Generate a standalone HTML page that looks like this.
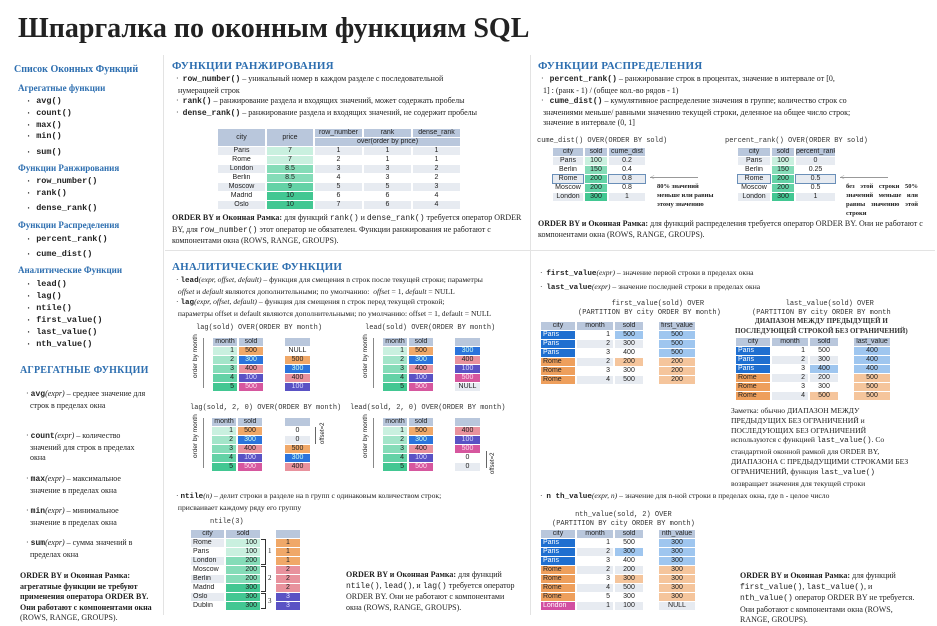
<!DOCTYPE html>
<html><head><meta charset="utf-8"><style>
*{margin:0;padding:0;box-sizing:border-box}
body{width:937px;height:624px;background:#fff;position:relative;overflow:hidden;font-family:"Liberation Serif","Noto Serif CJK SC",serif;color:#222;font-size:8px}
.a{position:absolute;white-space:nowrap}
.m{font-family:"Liberation Mono",monospace}
.mb{font-family:"Liberation Mono",monospace;font-weight:bold}
.h1{font-weight:bold;color:#2e6fb0}
.sec{font-weight:bold;color:#2e6fb0;font-size:11px;letter-spacing:.2px}
.li{font-family:"Liberation Mono",monospace;font-weight:bold;font-size:8.5px}
.p{position:absolute;font-size:8px;line-height:10.5px}
.t{position:absolute;display:grid;font:7px "Liberation Sans",sans-serif;column-gap:2px;row-gap:1px}
.t div{height:8px;line-height:8px;text-align:center;overflow:hidden;white-space:nowrap}
.h{background:#b9c7dc}.w{background:#fff}.g{background:#e7ebf1}
.g1{background:#c9f0df}.g2{background:#a3e5c9}.g3{background:#85dcb8}.g4{background:#63d2a6}.g5{background:#42c792}
.o{background:#f0a868}.b{background:#2b74dc;color:#cfe}.pk{background:#e8929d}.pu{background:#5a52c4;color:#ddf}.mg{background:#d6579e;color:#fde}
.lb{background:#9fc6ef}.lo{background:#f5c59c}.P{background:#1f6fd0;color:#fff;text-align:left!important;padding-left:2px}.R{background:#ee9f5c;text-align:left!important;padding-left:2px}.L{background:#d24fa1;color:#fff;text-align:left!important;padding-left:2px}
.r{text-align:right!important;padding-right:3px}
.vl{position:absolute;background:#e3e3e3}
.cap{position:absolute;font-family:"Liberation Mono",monospace;font-size:7px;white-space:nowrap;color:#333}
</style></head><body>

<div class="a" style="left:18px;top:13px;font-size:28px;font-weight:bold;">Шпаргалка по оконным функциям SQL</div>

<div class="vl" style="left:163px;top:55px;width:1px;height:560px"></div>
<div class="vl" style="left:530px;top:55px;width:1px;height:560px"></div>
<div class="vl" style="left:165px;top:250px;width:770px;height:1px"></div>

<!-- sidebar -->
<div class="a h1" style="left:14px;top:64px;font-size:10px">Список Оконных Функций</div>
<div class="a h1" style="left:18px;top:83px;font-size:9px">Агрегатные функции</div>
<div class="a li" style="left:26px;top:96px">· avg()</div>
<div class="a li" style="left:26px;top:108px">· count()</div>
<div class="a li" style="left:26px;top:120px">· max()</div>
<div class="a li" style="left:26px;top:131px">· min()</div>
<div class="a li" style="left:26px;top:147px">· sum()</div>
<div class="a h1" style="left:18px;top:163px;font-size:9px">Функции Ранжирования</div>
<div class="a li" style="left:26px;top:176px">· row_number()</div>
<div class="a li" style="left:26px;top:188px">· rank()</div>
<div class="a li" style="left:26px;top:203px">·  dense_rank()</div>
<div class="a h1" style="left:18px;top:220px;font-size:9px">Функции Распределения</div>
<div class="a li" style="left:26px;top:234px">· percent_rank()</div>
<div class="a li" style="left:26px;top:249px">· cume_dist()</div>
<div class="a h1" style="left:18px;top:265px;font-size:9px">Аналитические Функции</div>
<div class="a li" style="left:26px;top:279px">· lead()</div>
<div class="a li" style="left:26px;top:291px">· lag()</div>
<div class="a li" style="left:26px;top:303px">· ntile()</div>
<div class="a li" style="left:26px;top:315px">· first_value()</div>
<div class="a li" style="left:26px;top:327px">· last_value()</div>
<div class="a li" style="left:26px;top:339px">· nth_value()</div>

<div class="a sec" style="left:20px;top:365px;font-size:10px">АГРЕГАТНЫЕ ФУНКЦИИ</div>
<div class="p" style="left:26px;top:389px;width:130px">· <b class="m">avg</b><i>(expr)</i> – среднее значение для<br>&nbsp;&nbsp;строк в пределах окна</div>
<div class="p" style="left:26px;top:431px;width:130px">· <b class="m">count</b><i>(expr)</i> – количество<br>&nbsp;&nbsp;значений для строк в пределах<br>&nbsp;&nbsp;окна</div>
<div class="p" style="left:26px;top:474px;width:130px">· <b class="m">max</b><i>(expr)</i> – максимальное<br>&nbsp;&nbsp;значение в пределах окна</div>
<div class="p" style="left:26px;top:506px;width:130px">· <b class="m">min</b><i>(expr)</i> – минимальное<br>&nbsp;&nbsp;значение в пределах окна</div>
<div class="p" style="left:26px;top:538px;width:130px">· <b class="m">sum</b><i>(expr)</i> – сумма значений в<br>&nbsp;&nbsp;пределах окна</div>
<div class="p" style="left:20px;top:571px;width:145px;font-weight:bold">ORDER BY и Оконная Рамка:<br>агрегатные функции не требуют<br>применения оператора ORDER BY.<br>Они работают с компонентами окна<br><span style="font-weight:normal">(ROWS, RANGE, GROUPS).</span></div>

<!-- ranking -->
<div class="a sec" style="left:172px;top:60px">ФУНКЦИИ РАНЖИРОВАНИЯ</div>
<div class="p" style="left:176px;top:74px;width:350px">·&nbsp; <b class="m">row_number()</b> – уникальный номер в каждом разделе с последовательной<br>&nbsp;нумерацией строк<br>·&nbsp; <b class="m">rank()</b> – ранжирование раздела и входящих значений, может содержать пробелы<br>·&nbsp; <b class="m">dense_rank()</b> – ранжирование раздела и входящих значений, не содержит пробелы</div>
<div class="t" style="left:218px;top:129px;grid-template-columns:47px 46px 47px 47px 47px">
<div class="h" style="grid-row:span 2;height:17px;line-height:17px">city</div><div class="h" style="grid-row:span 2;height:17px;line-height:17px">price</div><div class="h">row_number</div><div class="h">rank</div><div class="h">dense_rank</div>
<div class="h" style="grid-column:span 3">over(order by price)</div>
<div class="g">Paris</div><div class="g1">7</div><div class="g">1</div><div class="g">1</div><div class="g">1</div>
<div class="w">Rome</div><div class="g1">7</div><div class="w">2</div><div class="w">1</div><div class="w">1</div>
<div class="g">London</div><div class="g3">8.5</div><div class="g">3</div><div class="g">3</div><div class="g">2</div>
<div class="w">Berlin</div><div class="g3">8.5</div><div class="w">4</div><div class="w">3</div><div class="w">2</div>
<div class="g">Moscow</div><div class="g4">9</div><div class="g">5</div><div class="g">5</div><div class="g">3</div>
<div class="w">Madrid</div><div class="g5">10</div><div class="w">6</div><div class="w">6</div><div class="w">4</div>
<div class="g">Oslo</div><div class="g5">10</div><div class="g">7</div><div class="g">6</div><div class="g">4</div>
</div>
<div class="p" style="left:172px;top:213px;width:355px"><b>ORDER BY и Оконная Рамка:</b> для функций <span class="m">rank()</span> и <span class="m">dense_rank()</span> требуется оператор ORDER BY, для <span class="m">row_number()</span> этот оператор не обязателен. Функции ранжирования не работают с компонентами окна (ROWS, RANGE, GROUPS).</div>

<!-- distribution -->
<div class="a sec" style="left:538px;top:60px">ФУНКЦИИ РАСПРЕДЕЛЕНИЯ</div>
<div class="p" style="left:541px;top:74px;width:390px">·&nbsp;&nbsp; <b class="m">percent_rank()</b> – ранжирование строк в процентах, значение в интервале от [0,<br>&nbsp;1] : (ранк - 1) / (общее кол.-во рядов - 1)<br>·&nbsp;&nbsp; <b class="m">cume_dist()</b> – кумулятивное распределение значения в группе; количество строк со<br>&nbsp;значениями меньше/ равными значению текущей строки, деленное на общее число строк;<br>&nbsp;значение в интервале (0, 1]</div>
<div class="cap" style="left:537px;top:137px">cume_dist() OVER(ORDER BY sold)</div>
<div class="t" style="left:553px;top:148px;grid-template-columns:30px 22px 36px">
<div class="h">city</div><div class="h">sold</div><div class="h">cume_dist</div>
<div class="g">Paris</div><div class="g1">100</div><div class="g">0.2</div>
<div class="w">Berlin</div><div class="g3">150</div><div class="w">0.4</div>
<div class="g" style="outline:1px solid #6a8fb8">Rome</div><div class="g4">200</div><div class="g" style="outline:1px solid #6a8fb8">0.8</div>
<div class="w">Moscow</div><div class="g4">200</div><div class="w">0.8</div>
<div class="g">London</div><div class="g5">300</div><div class="g">1</div>
</div>
<div class="a" style="left:650px;top:177px;width:48px;border-top:1px solid #999"></div>
<div class="a" style="left:650px;top:173px;font-size:8px;color:#999">&lt;</div>
<div class="p" style="left:657px;top:182px;font-size:6.5px;line-height:9px;font-weight:bold">80% значений<br>меньше или равны<br>этому значению</div>
<div class="cap" style="left:725px;top:137px">percent_rank() OVER(ORDER BY sold)</div>
<div class="t" style="left:738px;top:148px;grid-template-columns:32px 22px 39px">
<div class="h">city</div><div class="h">sold</div><div class="h">percent_rank</div>
<div class="g">Paris</div><div class="g1">100</div><div class="g">0</div>
<div class="w">Berlin</div><div class="g3">150</div><div class="w">0.25</div>
<div class="g" style="outline:1px solid #6a8fb8">Rome</div><div class="g4">200</div><div class="g" style="outline:1px solid #6a8fb8">0.5</div>
<div class="w">Moscow</div><div class="g4">200</div><div class="w">0.5</div>
<div class="g">London</div><div class="g5">300</div><div class="g">1</div>
</div>
<div class="a" style="left:840px;top:177px;width:48px;border-top:1px solid #999"></div>
<div class="a" style="left:840px;top:173px;font-size:8px;color:#999">&lt;</div>
<div class="p" style="left:846px;top:182px;width:72px;font-size:6.5px;line-height:9px;font-weight:bold;text-align:justify">без этой строки 50% значений меньше или равны значению этой строки</div>
<div class="p" style="left:538px;top:219px;width:390px"><b>ORDER BY и Оконная Рамка:</b> для функций распределения требуется оператор ORDER BY. Они не работают с компонентами окна (ROWS, RANGE, GROUPS).</div>

<!-- analytic -->
<div class="a sec" style="left:172px;top:261px">АНАЛИТИЧЕСКИЕ ФУНКЦИИ</div>
<div class="p" style="left:176px;top:275px;width:355px;font-size:7.6px">· <b class="m">lead</b><i>(expr, offset, default)</i> – функция для смещения n строк после текущей строки; параметры<br>&nbsp;<i>offset</i> и <i>default</i> являются дополнительными; по умолчанию:&nbsp; <i>offset</i> = 1, <i>default</i> = NULL<br>· <b class="m">lag</b><i>(expr, offset, default)</i> – функция для смещения n строк перед текущей строкой;<br>&nbsp;параметры offset и default являются дополнительными; по умолчанию: offset = 1, default = NULL</div>

<div class="cap" style="left:196px;top:324px">lag(sold) OVER(ORDER BY month)</div>
<div class="cap" style="left:365px;top:324px">lead(sold) OVER(ORDER BY month)</div>
<div class="cap" style="left:190px;top:404px">lag(sold, 2, 0) OVER(ORDER BY month)</div>
<div class="cap" style="left:350px;top:404px">lead(sold, 2, 0) OVER(ORDER BY month)</div>

<div class="a" style="left:203px;top:338px;height:50px;border-left:1px solid #888"></div>
<div class="a" style="left:373px;top:338px;height:50px;border-left:1px solid #888"></div>
<div class="a" style="left:203px;top:418px;height:50px;border-left:1px solid #888"></div>
<div class="a" style="left:373px;top:418px;height:50px;border-left:1px solid #888"></div>
<div class="a" style="left:192px;top:378px;transform:rotate(-90deg);transform-origin:0 0;font:6.5px 'Liberation Sans',sans-serif">order by month</div>
<div class="a" style="left:362px;top:378px;transform:rotate(-90deg);transform-origin:0 0;font:6.5px 'Liberation Sans',sans-serif">order by month</div>
<div class="a" style="left:192px;top:458px;transform:rotate(-90deg);transform-origin:0 0;font:6.5px 'Liberation Sans',sans-serif">order by month</div>
<div class="a" style="left:362px;top:458px;transform:rotate(-90deg);transform-origin:0 0;font:6.5px 'Liberation Sans',sans-serif">order by month</div>

<div class="t" style="left:213px;top:338px;grid-template-columns:24px 24px">
<div class="h">month</div><div class="h">sold</div>
<div class="g1 r">1</div><div class="o">500</div><div class="g2 r">2</div><div class="b">300</div><div class="g3 r">3</div><div class="pk">400</div><div class="g4 r">4</div><div class="pu">100</div><div class="g5 r">5</div><div class="mg">500</div></div>
<div class="t" style="left:285px;top:338px;grid-template-columns:25px">
<div class="h">&nbsp;</div><div class="w">NULL</div><div class="o">500</div><div class="b">300</div><div class="pk">400</div><div class="pu">100</div></div>

<div class="t" style="left:383px;top:338px;grid-template-columns:24px 24px">
<div class="h">month</div><div class="h">sold</div>
<div class="g1 r">1</div><div class="o">500</div><div class="g2 r">2</div><div class="b">300</div><div class="g3 r">3</div><div class="pk">400</div><div class="g4 r">4</div><div class="pu">100</div><div class="g5 r">5</div><div class="mg">500</div></div>
<div class="t" style="left:455px;top:338px;grid-template-columns:25px">
<div class="h">&nbsp;</div><div class="b">300</div><div class="pk">400</div><div class="pu">100</div><div class="mg">500</div><div class="g">NULL</div></div>

<div class="t" style="left:212px;top:418px;grid-template-columns:24px 24px">
<div class="h">month</div><div class="h">sold</div>
<div class="g1 r">1</div><div class="o">500</div><div class="g2 r">2</div><div class="b">300</div><div class="g3 r">3</div><div class="pk">400</div><div class="g4 r">4</div><div class="pu">100</div><div class="g5 r">5</div><div class="mg">500</div></div>
<div class="t" style="left:285px;top:418px;grid-template-columns:25px">
<div class="h">&nbsp;</div><div class="w">0</div><div class="g">0</div><div class="o">500</div><div class="b">300</div><div class="pk">400</div></div>
<div class="a" style="left:315px;top:427px;height:17px;border-left:1px solid #666"></div>
<div class="a" style="left:320px;top:444px;transform:rotate(-90deg);transform-origin:0 0;font:6px 'Liberation Sans',sans-serif">offset=2</div>

<div class="t" style="left:383px;top:418px;grid-template-columns:24px 24px">
<div class="h">month</div><div class="h">sold</div>
<div class="g1 r">1</div><div class="o">500</div><div class="g2 r">2</div><div class="b">300</div><div class="g3 r">3</div><div class="pk">400</div><div class="g4 r">4</div><div class="pu">100</div><div class="g5 r">5</div><div class="mg">500</div></div>
<div class="t" style="left:455px;top:418px;grid-template-columns:25px">
<div class="h">&nbsp;</div><div class="pk">400</div><div class="pu">100</div><div class="mg">500</div><div class="w">0</div><div class="g">0</div></div>
<div class="a" style="left:486px;top:451px;height:17px;border-left:1px solid #666"></div>
<div class="a" style="left:490px;top:474px;transform:rotate(-90deg);transform-origin:0 0;font:6px 'Liberation Sans',sans-serif">offset=2</div>

<!-- ntile -->
<div class="p" style="left:176px;top:491px;width:355px;font-size:7.6px">· <b class="m">ntile</b><i>(n)</i> – делит строки в разделе на n групп с одинаковым количеством строк;<br>&nbsp;присваивает каждому ряду его группу</div>
<div class="cap" style="left:210px;top:518px">ntile(3)</div>
<div class="t" style="left:191px;top:530px;grid-template-columns:33px 34px">
<div class="h">city</div><div class="h">sold</div>
<div class="g" style="text-align:left;padding-left:2px">Rome</div><div class="g1 r">100</div>
<div class="w" style="text-align:left;padding-left:2px">Paris</div><div class="g1 r">100</div>
<div class="g" style="text-align:left;padding-left:2px">London</div><div class="g3 r">200</div>
<div class="w" style="text-align:left;padding-left:2px">Moscow</div><div class="g3 r">200</div>
<div class="g" style="text-align:left;padding-left:2px">Berlin</div><div class="g3 r">200</div>
<div class="w" style="text-align:left;padding-left:2px">Madrid</div><div class="g5 r">300</div>
<div class="g" style="text-align:left;padding-left:2px">Oslo</div><div class="g5 r">300</div>
<div class="w" style="text-align:left;padding-left:2px">Dublin</div><div class="g5 r">300</div></div>
<div class="t" style="left:276px;top:530px;grid-template-columns:24px">
<div class="h">&nbsp;</div><div class="o">1</div><div class="o">1</div><div class="o">1</div><div class="pk">2</div><div class="pk">2</div><div class="pk">2</div><div class="pu">3</div><div class="pu">3</div></div>
<div class="a" style="left:261px;top:539px;width:5px;height:26px;border:1px solid #333;border-left:none"></div>
<div class="a" style="left:261px;top:566px;width:5px;height:26px;border:1px solid #333;border-left:none"></div>
<div class="a" style="left:261px;top:593px;width:5px;height:16px;border:1px solid #333;border-left:none"></div>
<div class="a" style="left:268px;top:547px;font-size:7px">1</div>
<div class="a" style="left:268px;top:574px;font-size:7px">2</div>
<div class="a" style="left:268px;top:597px;font-size:7px">3</div>
<div class="p" style="left:346px;top:570px;width:175px"><b>ORDER BY и Оконная Рамка:</b> для функций <span class="m">ntile()</span>, <span class="m">lead()</span>, и <span class="m">lag()</span> требуется оператор ORDER BY. Они не работают с компонентами окна (ROWS, RANGE, GROUPS).</div>

<!-- first/last -->
<div class="p" style="left:540px;top:267px;width:390px;font-size:7.6px;line-height:12.5px">·&nbsp; <b class="m">first_value</b><i>(expr)</i> – значение первой строки в пределах окна<br>·&nbsp; <b class="m">last_value</b><i>(expr)</i> – значение последней строки в пределах окна</div>
<div class="cap" style="left:578px;top:300px;text-align:center;line-height:9px">&nbsp;&nbsp;&nbsp;&nbsp;first_value(sold) OVER<br>(PARTITION BY city ORDER BY month)</div>
<div class="t" style="left:541px;top:322px;grid-template-columns:34px 36px 28px 12px 36px">
<div class="h">city</div><div class="h">month</div><div class="h">sold</div><div class="w"></div><div class="h">first_value</div>
<div class="P">Paris</div><div class="w r">1</div><div class="lb">500</div><div class="w"></div><div class="lb">500</div>
<div class="P">Paris</div><div class="g r">2</div><div class="g">300</div><div class="w"></div><div class="lb">500</div>
<div class="P">Paris</div><div class="w r">3</div><div class="w">400</div><div class="w"></div><div class="lb">500</div>
<div class="R">Rome</div><div class="g r">2</div><div class="lo">200</div><div class="w"></div><div class="lo">200</div>
<div class="R">Rome</div><div class="w r">3</div><div class="w">300</div><div class="w"></div><div class="lo">200</div>
<div class="R">Rome</div><div class="g r">4</div><div class="g">500</div><div class="w"></div><div class="lo">200</div></div>

<div class="cap" style="left:735px;top:300px;text-align:center;line-height:8.5px;font-size:7px">&nbsp;&nbsp;&nbsp;&nbsp;last_value(sold) OVER<br>(PARTITION BY city ORDER BY month<br><b style="font-family:'Liberation Serif',serif">ДИАПАЗОН МЕЖДУ ПРЕДЫДУЩЕЙ И<br>ПОСЛЕДУЮЩЕЙ СТРОКОЙ БЕЗ ОГРАНИЧЕНИЙ)</b></div>
<div class="t" style="left:736px;top:338px;grid-template-columns:34px 36px 28px 12px 36px">
<div class="h">city</div><div class="h">month</div><div class="h">sold</div><div class="w"></div><div class="h">last_value</div>
<div class="P">Paris</div><div class="w r">1</div><div class="w">500</div><div class="w"></div><div class="lb">400</div>
<div class="P">Paris</div><div class="g r">2</div><div class="g">300</div><div class="w"></div><div class="lb">400</div>
<div class="P">Paris</div><div class="w r">3</div><div class="lb">400</div><div class="w"></div><div class="lb">400</div>
<div class="R">Rome</div><div class="g r">2</div><div class="g">200</div><div class="w"></div><div class="lo">500</div>
<div class="R">Rome</div><div class="w r">3</div><div class="w">300</div><div class="w"></div><div class="lo">500</div>
<div class="R">Rome</div><div class="g r">4</div><div class="lo">500</div><div class="w"></div><div class="lo">500</div></div>
<div class="p" style="left:731px;top:406px;width:180px;font-size:7.6px;line-height:9.8px">Заметка: обычно ДИАПАЗОН МЕЖДУ ПРЕДЫДУЩИХ БЕЗ ОГРАНИЧЕНИЙ и ПОСЛЕДУЮЩИХ БЕЗ ОГРАНИЧЕНИЙ используются с функцией <span class="m">last_value()</span>. Со стандартной оконной рамкой для ORDER BY, ДИАПАЗОНА С ПРЕДЫДУЩИМИ СТРОКАМИ БЕЗ ОГРАНИЧЕНИЙ, функция <span class="m">last_value()</span> возвращает значения для текущей строки</div>

<!-- nth_value -->
<div class="p" style="left:540px;top:491px;width:390px;font-size:7.6px">·&nbsp; <b class="m">n th_value</b><i>(expr, n)</i> – значение для n-ной строки в пределах окна, где n - целое число</div>
<div class="cap" style="left:552px;top:511px;text-align:center;line-height:8.5px">nth_value(sold, 2) OVER<br>(PARTITION BY city ORDER BY month)</div>
<div class="t" style="left:541px;top:530px;grid-template-columns:34px 36px 28px 12px 36px">
<div class="h">city</div><div class="h">month</div><div class="h">sold</div><div class="w"></div><div class="h">nth_value</div>
<div class="P">Paris</div><div class="w r">1</div><div class="w">500</div><div class="w"></div><div class="lb">300</div>
<div class="P">Paris</div><div class="g r">2</div><div class="lb">300</div><div class="w"></div><div class="lb">300</div>
<div class="P">Paris</div><div class="w r">3</div><div class="w">400</div><div class="w"></div><div class="lb">300</div>
<div class="R">Rome</div><div class="g r">2</div><div class="g">200</div><div class="w"></div><div class="lo">300</div>
<div class="R">Rome</div><div class="w r">3</div><div class="lo">300</div><div class="w"></div><div class="lo">300</div>
<div class="R">Rome</div><div class="g r">4</div><div class="g">500</div><div class="w"></div><div class="lo">300</div>
<div class="R">Rome</div><div class="w r">5</div><div class="w">300</div><div class="w"></div><div class="lo">300</div>
<div class="L">London</div><div class="g r">1</div><div class="g">100</div><div class="w"></div><div class="g">NULL</div></div>
<div class="p" style="left:740px;top:571px;width:180px"><b>ORDER BY и Оконная Рамка:</b> для функций <span class="m">first_value()</span>, <span class="m">last_value()</span>, и <span class="m">nth_value()</span> оператор ORDER BY не требуется. Они работают с компонентами окна (ROWS, RANGE, GROUPS).</div>

</body></html>
